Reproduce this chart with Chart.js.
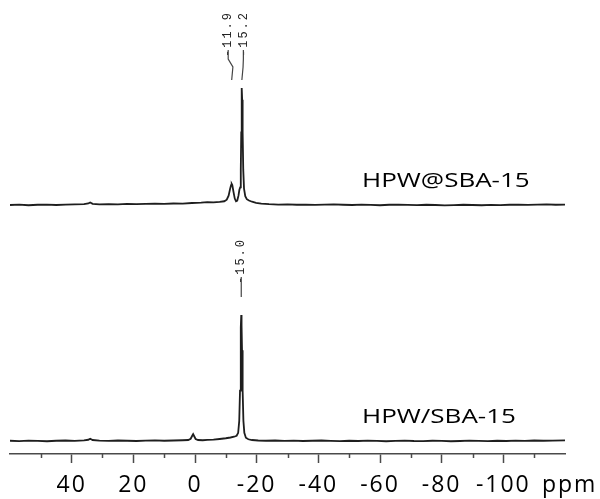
<!DOCTYPE html>
<html>
<head>
<meta charset="utf-8">
<title>31P MAS NMR</title>
<script src="https://cdn.jsdelivr.net/npm/chart.js@4.4.1/dist/chart.umd.min.js"></script>
<style>
	html, body { margin: 0; padding: 0; background: #fff; }
	#wrap { width: 600px; height: 499px; }
</style>
</head>
<body>
<div id="wrap"><canvas id="nmr" width="600" height="499"></canvas></div>
<script>
// chemical shift (ppm), relative intensity
var spectrumTop = [
	[60, 0.0], [57, 0.3], [54, -0.2], [51, 0.2], [48, 0.4], [45, 0.0], [42, 0.3], [39, 0.5],
	[36, 0.7], [34.6, 1.3], [34, 2.2], [33.2, 1.0], [31, 0.6], [28, 0.8], [25, 0.5], [22, 0.9],
	[19, 0.7], [16, 1.0], [13, 1.1], [10, 0.9], [7, 1.3], [4, 1.2], [1, 1.7], [-2, 2.0],
	[-4, 2.4], [-6, 2.3], [-8, 2.7], [-9.5, 3.2], [-10.3, 4.5], [-10.9, 8], [-11.4, 14], [-11.7, 17],
	[-11.9, 18], [-12.1, 17], [-12.5, 11], [-12.9, 5.5], [-13.3, 3.2], [-13.7, 3.8], [-14.1, 8], [-14.4, 13],
	[-14.65, 15], [-14.85, 30], [-15.0, 62], [-15.1, 88], [-15.2, 100], [-15.3, 90], [-15.45, 62], [-15.65, 30],
	[-15.9, 14], [-16.3, 7.5], [-16.8, 5], [-17.5, 3.8], [-18.5, 2.8], [-19.8, 1.8], [-21.5, 1.1], [-24, 0.7],
	[-27, 0.4], [-30, 0.6], [-33, 0.2], [-36, 0.4], [-39, 0.1], [-42, 0.3], [-45, 0.5], [-48, 0.2],
	[-51, 0.0], [-54, 0.3], [-57, 0.1], [-60, -0.2], [-63, 0.2], [-66, 0.4], [-69, 0.1], [-72, -0.1],
	[-75, 0.2], [-78, 0.0], [-81, -0.3], [-84, -0.1], [-87, 0.2], [-90, 0.0], [-93, -0.2], [-96, 0.1],
	[-99, -0.1], [-102, 0.2], [-105, 0.4], [-108, 0.1], [-111, 0.3], [-114, 0.5], [-117, 0.2], [-120, 0.4]
];
var spectrumBottom = [
	[60, 0.2], [57, -0.1], [54, 0.3], [51, 0.1], [48, -0.2], [45, 0.2], [42, 0.4], [39, 0.1],
	[36, 0.5], [34.6, 1.0], [34, 1.8], [33.2, 0.8], [31, 0.3], [28, 0.1], [25, 0.4], [22, 0.2],
	[19, 0.0], [16, 0.3], [13, 0.5], [10, 0.2], [7, 0.4], [4, 0.6], [2.2, 0.8], [1.4, 1.8],
	[0.9, 4.2], [0.6, 5.5], [0.3, 4.0], [-0.2, 1.6], [-1, 0.8], [-2.5, 0.6], [-4, 0.9], [-6, 1.1],
	[-8, 1.6], [-10, 2.2], [-11.5, 2.8], [-12.7, 3.4], [-13.5, 4.2], [-14.0, 6.5], [-14.35, 16], [-14.6, 40],
	[-14.8, 72], [-14.9, 90], [-15.0, 100], [-15.1, 92], [-15.25, 72], [-15.45, 40], [-15.7, 16], [-16.0, 6.5],
	[-16.5, 2.6], [-17.3, 1.4], [-18.5, 0.8], [-20.5, 0.4], [-23, 0.2], [-26, 0.4], [-29, 0.1], [-32, 0.3],
	[-35, 0.0], [-38, 0.2], [-41, 0.4], [-44, 0.1], [-47, -0.1], [-50, 0.2], [-53, 0.0], [-56, 0.3],
	[-59, 0.1], [-62, -0.2], [-65, 0.1], [-68, 0.3], [-71, 0.0], [-74, -0.1], [-77, 0.2], [-80, 0.1],
	[-83, -0.2], [-86, 0.0], [-89, 0.3], [-92, 0.1], [-95, -0.1], [-98, 0.2], [-101, 0.0], [-104, 0.3],
	[-107, 0.1], [-110, 0.4], [-113, 0.2], [-116, 0.3], [-120, 0.5]
];

var sampleNames = ['HPW@SBA-15', 'HPW/SBA-15'];
var peaksTop = [-11.9, -15.2];
var peaksBottom = [-15.0];

var majorTicks = [40, 20, 0, -20, -40, -60, -80, -100];
var minorTicks = [50, 30, 10, -10, -30, -50, -70, -90, -110];
var axisUnit = 'ppm';

var INK = '#1e1e1e';
var AXIS = '#4a4a4a';
var TICK_FONT = '23px "Open Sans"';

/* Extra drawing: minor ticks, unit, sample names and peak markers */
var annotate = {
	id: 'annotate',
	beforeDraw: function (chart) {
		// wide tick labels
		chart.ctx.letterSpacing = '2px';
	},
	afterDraw: function (chart) {
		var ctx = chart.ctx;
		var x = chart.scales.x;
		var yTop = chart.scales.yTop;
		var yBottom = chart.scales.yBottom;
		var area = chart.chartArea;

		ctx.save();
		ctx.letterSpacing = '0px';

		// minor ticks
		ctx.strokeStyle = AXIS;
		ctx.lineWidth = 1.5;
		minorTicks.forEach(function (v) {
			var px = Math.round(x.getPixelForValue(v)) + 0.5;
			ctx.beginPath();
			ctx.moveTo(px, area.bottom);
			ctx.lineTo(px, area.bottom + 4);
			ctx.stroke();
		});

		// unit after the last tick label
		var items = x.getLabelItems();
		var last = items[items.length - 1];
		ctx.font = TICK_FONT;
		ctx.letterSpacing = '2px';
		ctx.fillStyle = '#000';
		ctx.textAlign = 'left';
		ctx.textBaseline = last.options.textBaseline;
		ctx.fillText(axisUnit, x.getPixelForValue(-112.5), last.options.translation[1] + (last.textOffset || 0));

		// sample names, stretched a little
		ctx.letterSpacing = '0px';
		ctx.font = '20px "Open Sans"';
		ctx.textBaseline = 'alphabetic';
		[[sampleNames[0], yTop], [sampleNames[1], yBottom]].forEach(function (s) {
			ctx.save();
			ctx.translate(362, s[1].getPixelForValue(0) - 18);
			ctx.scale(1.3, 1);
			ctx.fillText(s[0], 0, 0);
			ctx.restore();
		});

		// peak markers, rotated shift values with leader lines
		ctx.font = '12px "Liberation Mono"';
		ctx.letterSpacing = '2px';
		ctx.fillStyle = '#222';
		ctx.strokeStyle = '#444';
		ctx.lineWidth = 1.2;

		var drawMark = function (text, tx, ty) {
			ctx.save();
			ctx.translate(tx, ty);
			ctx.rotate(-Math.PI / 2);
			ctx.textAlign = 'left';
			ctx.textBaseline = 'middle';
			ctx.fillText(text, 0, 0);
			ctx.restore();
		};

		var textOffsets = [-3.5, 1.5];
		peaksTop.forEach(function (p, i) {
			var px = x.getPixelForValue(p);
			var tx = px + textOffsets[i];
			drawMark(p.toFixed(1), tx, 57);
			ctx.beginPath();
			ctx.moveTo(tx, 50);
			ctx.lineTo(tx, 59);
			ctx.lineTo(px + 1.2, 67);
			ctx.lineTo(px, 80);
			ctx.stroke();
		});

		peaksBottom.forEach(function (p) {
			var px = x.getPixelForValue(p);
			drawMark(p.toFixed(1), px, 284);
			ctx.beginPath();
			ctx.moveTo(px, 277);
			ctx.lineTo(px, 297);
			ctx.stroke();
		});

		ctx.restore();
	}
};

var toPoints = function (rows) {
	return rows.map(function (r) {
		return { x: r[0], y: r[1] };
	});
};

new Chart(document.getElementById('nmr'), {
	type: 'line',
	data: {
		datasets: [{
			label: sampleNames[0],
			data: toPoints(spectrumTop),
			yAxisID: 'yTop'
		}, {
			label: sampleNames[1],
			data: toPoints(spectrumBottom),
			yAxisID: 'yBottom'
		}]
	},
	options: {
		responsive: false,
		animation: false,
		events: [],
		layout: {
			padding: { left: 10, right: 35, top: 0, bottom: 0 }
		},
		elements: {
			line: { borderColor: INK, borderWidth: 1.8, tension: 0, fill: false },
			point: { radius: 0 }
		},
		plugins: {
			legend: { display: false },
			tooltip: { enabled: false }
		},
		scales: {
			x: {
				type: 'linear',
				position: 'bottom',
				reverse: true,
				min: -120,
				max: 60,
				afterBuildTicks: function (scale) {
					scale.ticks = majorTicks.slice().reverse().map(function (v) {
						return { value: v };
					});
				},
				afterFit: function (scale) {
					scale.height = 45;
				},
				grid: {
					drawOnChartArea: false,
					drawTicks: true,
					tickLength: 9,
					tickColor: AXIS,
					tickWidth: 1.5
				},
				border: { color: AXIS, width: 1.5 },
				ticks: {
					autoSkip: false,
					maxRotation: 0,
					padding: 9,
					color: '#000',
					font: { family: '"Open Sans"', size: 23 },
					callback: function (v) {
						return String(v);
					}
				}
			},
			yTop: {
				type: 'linear',
				display: false,
				min: -212.8,
				max: 175.2
			},
			yBottom: {
				type: 'linear',
				display: false,
				min: -10.3,
				max: 350
			}
		}
	},
	plugins: [annotate]
});
</script>
</body>
</html>
